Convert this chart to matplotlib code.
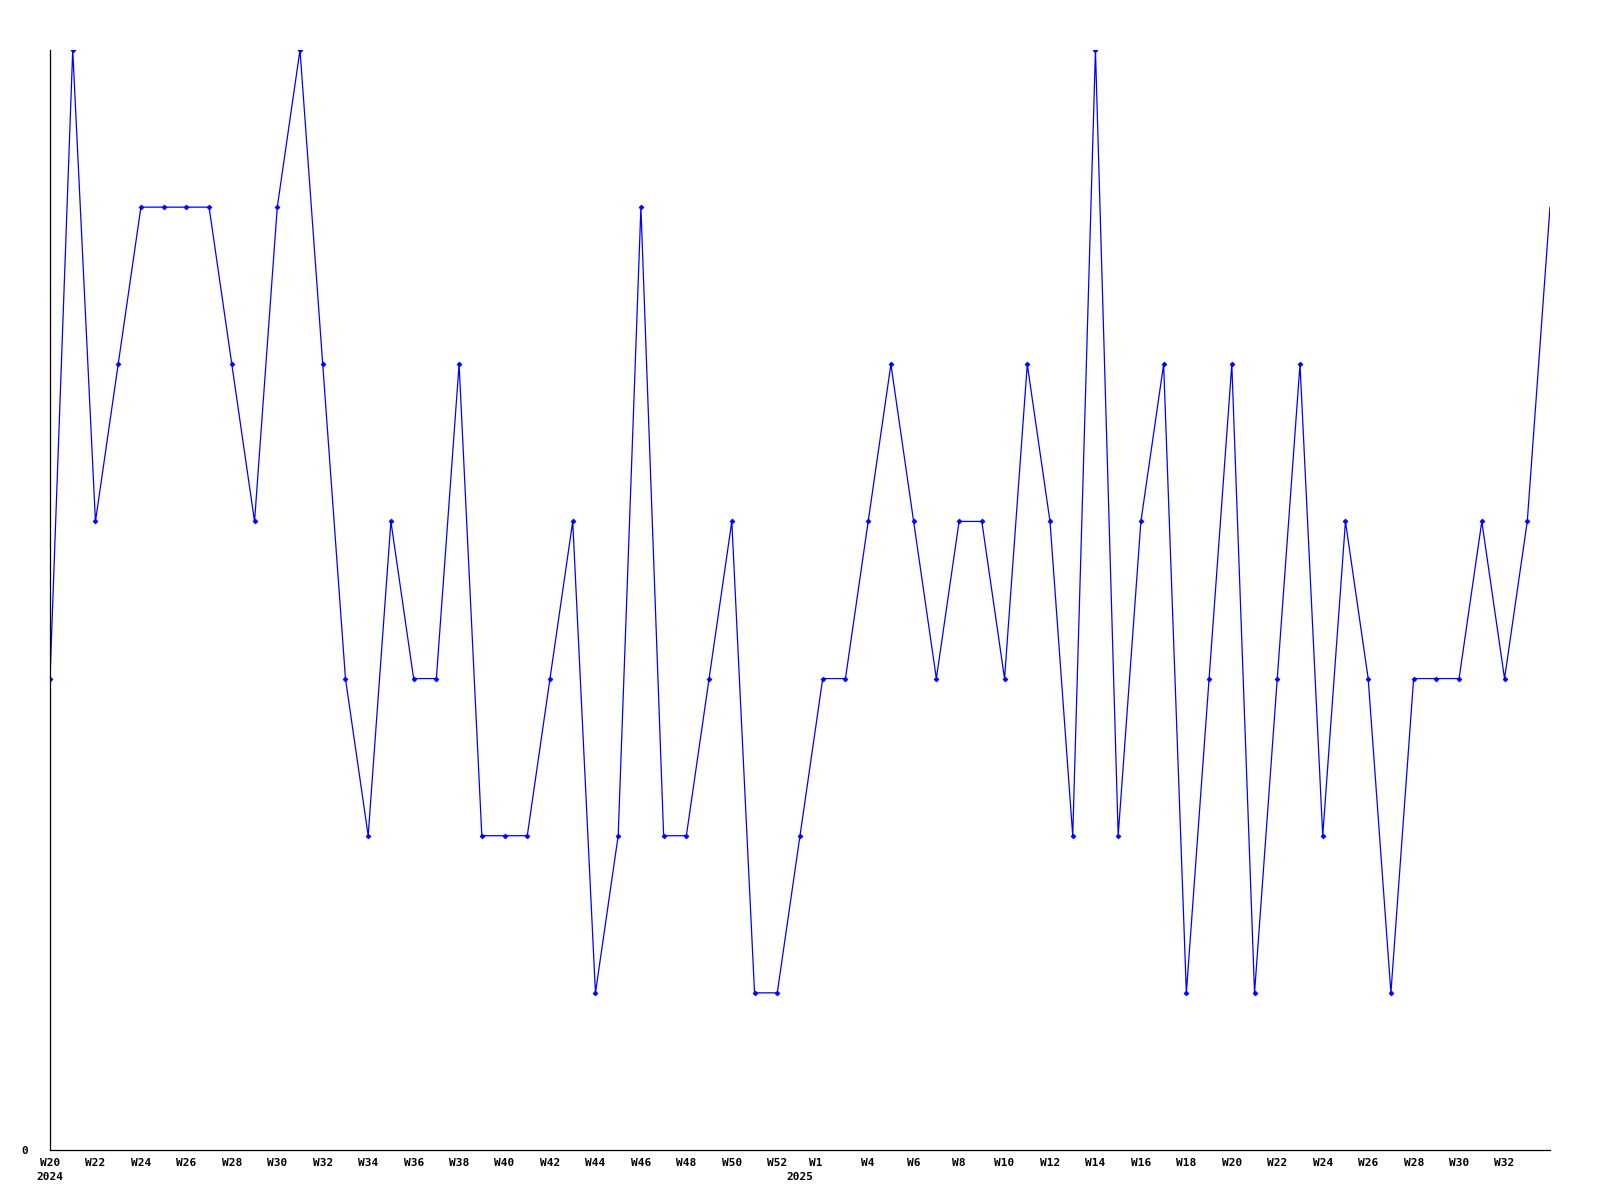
import numpy as np
import matplotlib.pyplot as plt

# weekly values, W20 2024 .. W34 2025
weeks_2024 = list(range(20, 53))
weeks_2025 = list(range(1, 35))
values = [3, 7, 4, 5, 6, 6, 6, 6, 5, 4, 6, 7, 5, 3, 2, 4, 3, 3, 5, 2,
          2, 2, 3, 4, 1, 2, 6, 2, 2, 3, 4, 1, 1,
          2, 3, 3, 4, 5, 4, 3, 4, 4, 3, 5, 4, 2, 7, 2, 4, 5, 1, 3, 5,
          1, 3, 5, 2, 4, 3, 1, 3, 3, 3, 4, 3, 4, 6]

tick_labels = (["W%d" % w for w in weeks_2024 if w % 2 == 0]
               + ["W1"] + ["W%d" % w for w in weeks_2025 if w % 2 == 0 and w >= 4 and w <= 32])

x = np.arange(len(values))
n24 = len(weeks_2024)

# tick positions: every second week; ISO W1 sits on Jan 4 so it is shifted a bit
tick_pos = [i for i, w in enumerate(weeks_2024) if w % 2 == 0]
tick_pos += [n24 + 5 / 7]
tick_pos += [n24 + i for i, w in enumerate(weeks_2025) if w % 2 == 0 and 4 <= w <= 32]

font = {"family": "DejaVu Sans Mono", "weight": "bold", "size": 8}

fig = plt.figure(figsize=(16, 12), dpi=100)
ax = fig.add_axes([50 / 1600, 50 / 1200, 1500 / 1600, 1100 / 1200])

ax.plot(x, values, color="#0000ff", lw=0.9)
ax.plot(x[:-1], values[:-1], ls="none", marker="D", ms=2.5, color="#0000ff", mew=0.5)

ax.set_xlim(0, len(values) - 1)
ax.set_ylim(0, 7)
ax.spines["top"].set_visible(False)
ax.spines["right"].set_visible(False)
ax.spines["left"].set_linewidth(0.9)
ax.spines["bottom"].set_linewidth(0.9)

ax.set_yticks([0])
ax.set_yticklabels(["0"], fontdict=font)
ax.tick_params(axis="y", length=0, pad=16)
ax.set_xticks(tick_pos)
ax.set_xticklabels(tick_labels, fontdict=font)
ax.tick_params(axis="x", length=0, pad=6)

# year labels under the first week of each year
for xpos, yr in [(0, "2024"), (n24, "2025")]:
    ax.annotate(yr, xy=(xpos, 0), xycoords=("data", "axes fraction"),
                xytext=(0, -27), textcoords="offset pixels",
                ha="center", va="center", **font)

fig.savefig("out.png", dpi=100)
